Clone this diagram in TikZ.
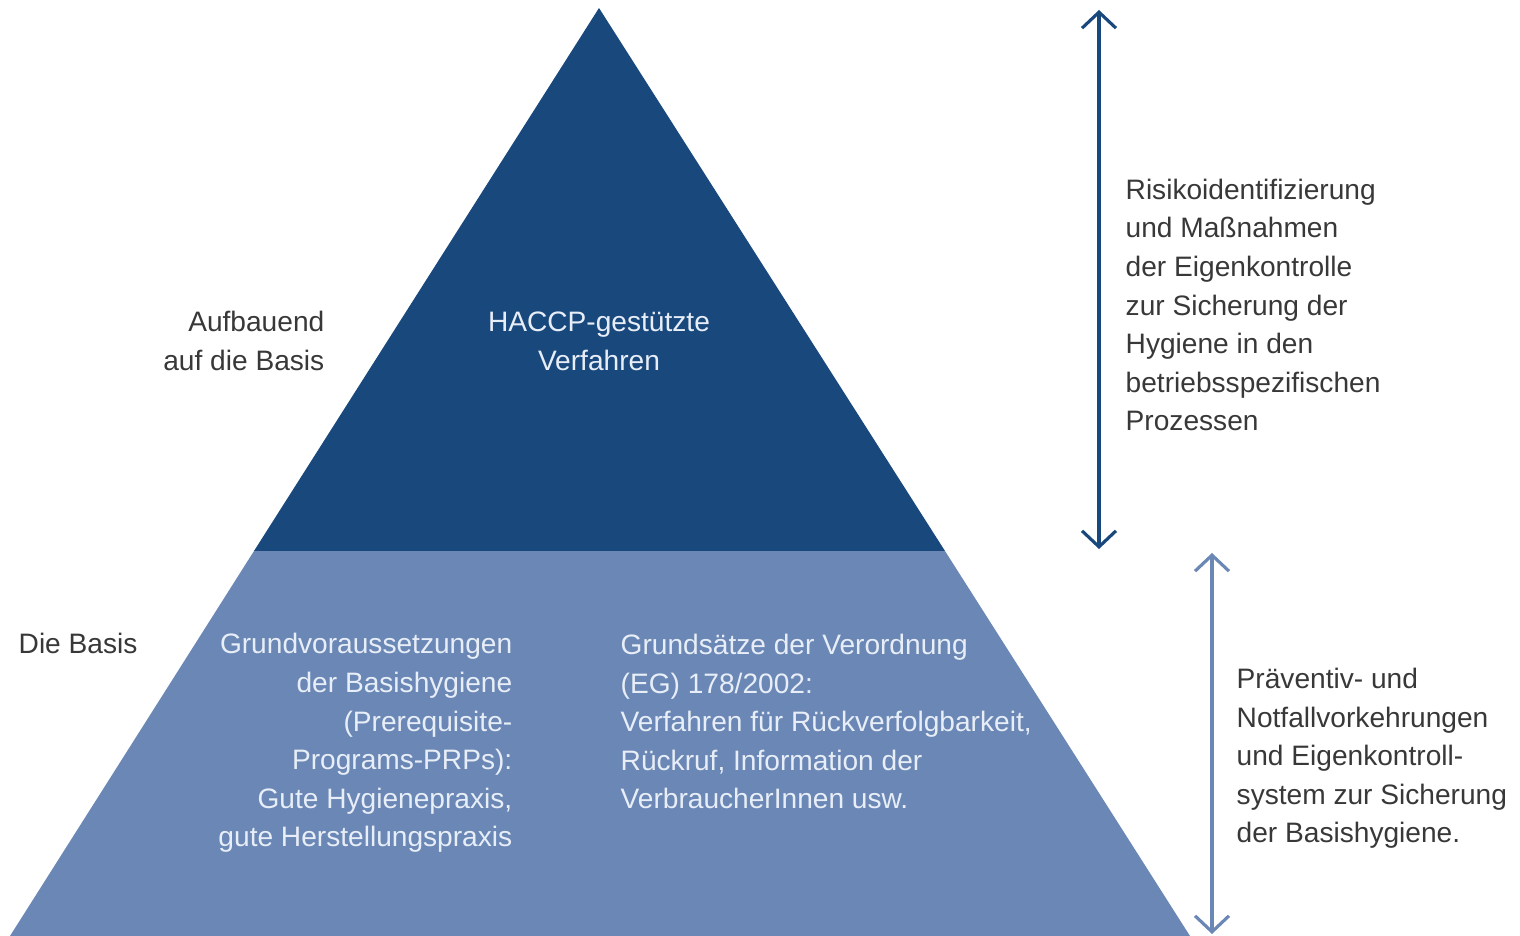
\documentclass[tikz,border=0pt]{standalone}
\usepackage{fontspec}
\setmainfont{Liberation Sans}
\usetikzlibrary{arrows.meta}
\definecolor{haccp}{RGB}{25,72,125}
\definecolor{basis}{RGB}{106,135,181}
\definecolor{schrift}{RGB}{56,56,56}
\definecolor{hell}{RGB}{232,238,247}

\begin{document}
\begin{tikzpicture}[x=1cm,y=-1cm,
  txt/.style={inner sep=0pt, font=\fontsize{8pt}{11pt}\selectfont, text=schrift},
  weiss/.style={txt, text=hell},
  pfeil/.style={line width=0.9pt, {Straight Barb[length=1.6mm,width=3.4mm]}-{Straight Barb[length=1.6mm,width=3.4mm]}}]
\useasboundingbox (0,0) rectangle (15.2,9.36);

% Pyramide: Basis unten, HACCP oben
\fill [basis] (0.10,9.36) -- (2.54,5.51) -- (9.45,5.51) -- (11.90,9.36) -- cycle;
\fill [haccp] (5.99,0.08) -- (2.54,5.51) -- (9.45,5.51) -- cycle;

% base = Grundlinie der letzten Zeile
\node [txt, align=right, anchor=base east] (aufbau) at (3.25,3.705) {Aufbauend\\auf die Basis};
\node [weiss, align=center, anchor=base] (verfahren) at (5.99,3.705) {HACCP-gestützte\\Verfahren};
\node [txt, anchor=base west] (diebasis) at (0.18,6.54) {Die Basis};
\node [weiss, align=right, anchor=base east] (prp) at (5.13,8.47) {Grundvoraussetzungen\\der Basishygiene\\(Prerequisite-\\Programs-PRPs):\\Gute Hygienepraxis,\\gute Herstellungspraxis};
\node [weiss, align=left, anchor=base west] (verordnung) at (6.20,8.09) {Grundsätze der Verordnung\\(EG) 178/2002:\\Verfahren für Rückverfolgbarkeit,\\Rückruf, Information der\\VerbraucherInnen usw.};

% Pfeile rechts
\coordinate (oben1) at (10.99,0.10);
\coordinate (unten1) at (10.99,5.49);
\coordinate (oben2) at (12.12,5.53);
\coordinate (unten2) at (12.12,9.34);
\draw [pfeil, haccp] (oben1) -- (unten1);
\draw [pfeil, basis] (oben2) -- (unten2);

\node [txt, align=left, anchor=base west] (risiko) at (11.25,4.31) {Risikoidentifizierung\\und Maßnahmen\\der Eigenkontrolle\\zur Sicherung der\\Hygiene in den\\betriebsspezifischen\\Prozessen};
\node [txt, align=left, anchor=base west] (praevention) at (12.36,8.43) {Präventiv- und\\Notfallvorkehrungen\\und Eigenkontroll-\\system zur Sicherung\\der Basishygiene.};
\end{tikzpicture}
\end{document}
